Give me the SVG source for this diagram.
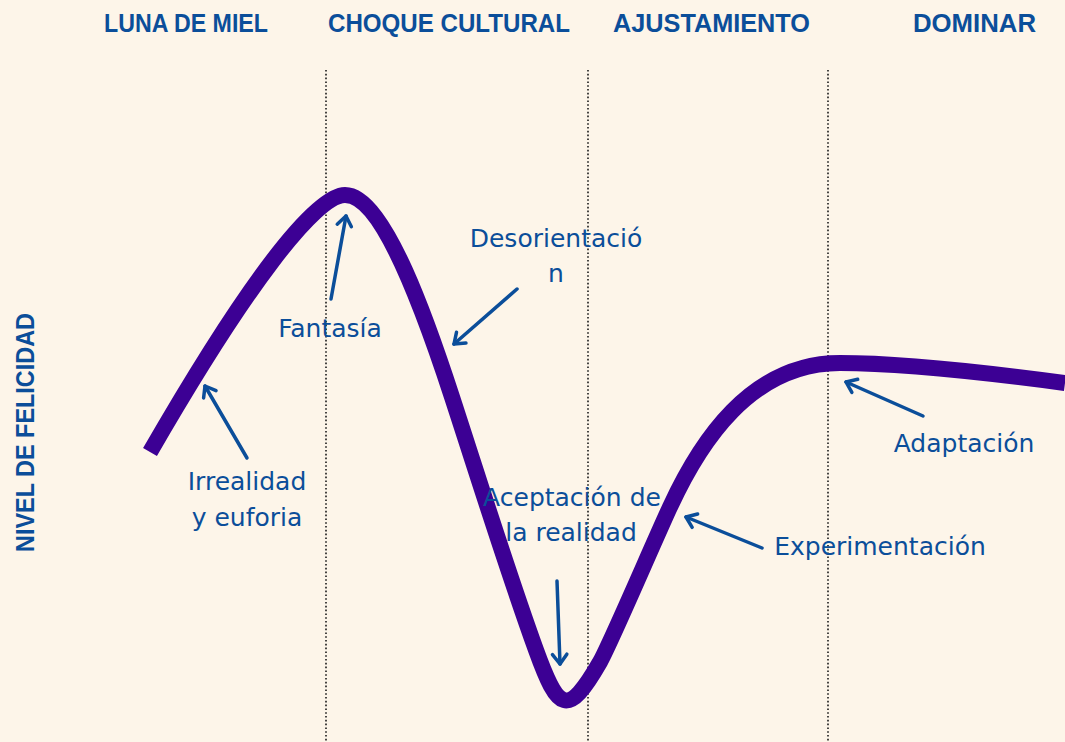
<svg xmlns="http://www.w3.org/2000/svg" width="1065" height="742" viewBox="0 0 1065 742">
  <style>
    .hdr { font-family: "Liberation Sans", Arial, sans-serif; font-weight: bold; font-size: 25px; fill: #0B4E9A; text-anchor: start; }
    .lbl { font-family: "DejaVu Sans", "Noto Sans", sans-serif; font-size: 25px; fill: #0B4E9A; text-anchor: middle; }
    .div { stroke: #1a1a1a; stroke-width: 1.6; stroke-dasharray: 1.6 2.2; fill: none; }
    .arr { stroke: #0B4E9A; stroke-width: 3.5; stroke-linecap: round; fill: none; marker-end: url(#ah); }
  </style>
  <defs>
    <marker id="ah" markerUnits="userSpaceOnUse" markerWidth="30" markerHeight="30" viewBox="-15 -15 30 30" refX="0" refY="0" orient="auto" overflow="visible">
      <path d="M-9.6,-7.2 L0,0 L-9.6,7.2" fill="none" stroke="#0B4E9A" stroke-width="3.5" stroke-linecap="round" stroke-linejoin="round"/>
    </marker>
  </defs>
  <rect x="0" y="0" width="1065" height="742" fill="#FDF5E9"/>

  <g id="dividers">
    <line class="div" x1="326" y1="70" x2="326" y2="742"/>
    <line class="div" x1="588" y1="70" x2="588" y2="742"/>
    <line class="div" x1="828" y1="70" x2="828" y2="742"/>
  </g>

  <g id="headers">
    <text id="h-luna" class="hdr" x="104" y="32" textLength="164" lengthAdjust="spacingAndGlyphs">LUNA DE MIEL</text>
    <text id="h-choque" class="hdr" x="328" y="32" textLength="242" lengthAdjust="spacingAndGlyphs">CHOQUE CULTURAL</text>
    <text id="h-ajuste" class="hdr" x="613" y="32" textLength="197" lengthAdjust="spacingAndGlyphs">AJUSTAMIENTO</text>
    <text id="h-dominar" class="hdr" x="913" y="32" textLength="123" lengthAdjust="spacingAndGlyphs">DOMINAR</text>
  </g>

  <g id="y-axis-label">
    <text class="hdr" transform="translate(34,552) rotate(-90)" x="0" y="0" textLength="239" lengthAdjust="spacingAndGlyphs">NIVEL DE FELICIDAD</text>
  </g>

  <g id="curve">
    <path d="M150,452 C245,287.5 315,195 345,195 C385,195 430.3,330.5 452,397 C479.9,482.5 507.1,570.1 536,650 C558.1,711.1 567.5,718.6 600,662 C610,644.6 653.2,543.4 670,507 C699.4,443.3 750,363 840,363 C900,363 990,373 1065,383" fill="none" stroke="#3C0094" stroke-width="16" stroke-linecap="butt" stroke-linejoin="round"/>
  </g>

  <g id="connectors">
    <line class="arr" x1="247" y1="458" x2="205" y2="386"/>
    <line class="arr" x1="331" y1="299" x2="346" y2="216"/>
    <line class="arr" x1="517" y1="289" x2="454" y2="344"/>
    <line class="arr" x1="557" y1="581" x2="560" y2="664"/>
    <line class="arr" x1="762" y1="548" x2="686" y2="517"/>
    <line class="arr" x1="923" y1="416" x2="846" y2="382"/>
  </g>

  <g id="n-irrealidad">
    <text class="lbl" x="247" y="490">Irrealidad</text>
    <text class="lbl" x="247" y="526">y euforia</text>
  </g>
  <g id="n-fantasia">
    <text class="lbl" x="330" y="337">Fantasía</text>
  </g>
  <g id="n-desorientacion">
    <text class="lbl" x="556" y="247">Desorientació</text>
    <text class="lbl" x="556" y="282">n</text>
  </g>
  <g id="n-aceptacion">
    <text class="lbl" x="572" y="506">Aceptación de</text>
    <text class="lbl" x="571" y="541">la realidad</text>
  </g>
  <g id="n-experimentacion">
    <text class="lbl" x="880" y="555">Experimentación</text>
  </g>
  <g id="n-adaptacion">
    <text class="lbl" x="964" y="452">Adaptación</text>
  </g>
</svg>
